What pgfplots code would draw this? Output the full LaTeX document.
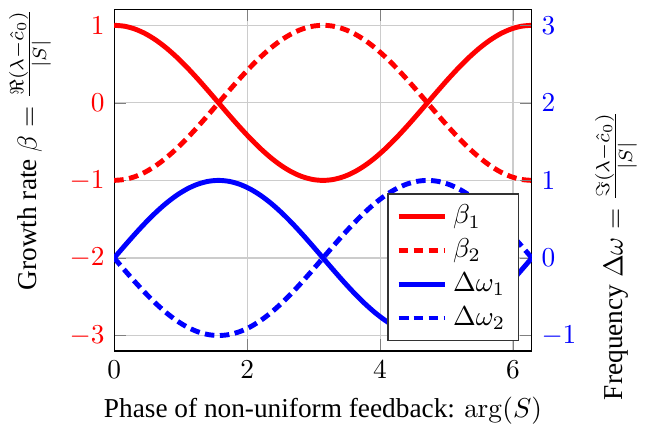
\documentclass[border=0pt]{standalone}
\usepackage[no-math]{fontspec}
\setmainfont{Liberation Serif}
\usepackage{pgfplots}
\usepackage{pgfplotstable}
\pgfplotsset{compat=1.18}
\pgfplotstableread{
x b1 b2 w1 w2
0.0000 1.0000 -1.0000 0.0000 -0.0000
0.1571 0.9877 -0.9877 0.1564 -0.1564
0.3142 0.9511 -0.9511 0.3090 -0.3090
0.4712 0.8910 -0.8910 0.4540 -0.4540
0.6283 0.8090 -0.8090 0.5878 -0.5878
0.7854 0.7071 -0.7071 0.7071 -0.7071
0.9425 0.5878 -0.5878 0.8090 -0.8090
1.0996 0.4540 -0.4540 0.8910 -0.8910
1.2566 0.3090 -0.3090 0.9511 -0.9511
1.4137 0.1564 -0.1564 0.9877 -0.9877
1.5708 0.0000 0.0000 1.0000 -1.0000
1.7279 -0.1564 0.1564 0.9877 -0.9877
1.8850 -0.3090 0.3090 0.9511 -0.9511
2.0420 -0.4540 0.4540 0.8910 -0.8910
2.1991 -0.5878 0.5878 0.8090 -0.8090
2.3562 -0.7071 0.7071 0.7071 -0.7071
2.5133 -0.8090 0.8090 0.5878 -0.5878
2.6704 -0.8910 0.8910 0.4540 -0.4540
2.8274 -0.9511 0.9511 0.3090 -0.3090
2.9845 -0.9877 0.9877 0.1564 -0.1564
3.1416 -1.0000 1.0000 0.0000 0.0000
3.2987 -0.9877 0.9877 -0.1564 0.1564
3.4558 -0.9511 0.9511 -0.3090 0.3090
3.6128 -0.8910 0.8910 -0.4540 0.4540
3.7699 -0.8090 0.8090 -0.5878 0.5878
3.9270 -0.7071 0.7071 -0.7071 0.7071
4.0841 -0.5878 0.5878 -0.8090 0.8090
4.2412 -0.4540 0.4540 -0.8910 0.8910
4.3982 -0.3090 0.3090 -0.9511 0.9511
4.5553 -0.1564 0.1564 -0.9877 0.9877
4.7124 0.0000 0.0000 -1.0000 1.0000
4.8695 0.1564 -0.1564 -0.9877 0.9877
5.0265 0.3090 -0.3090 -0.9511 0.9511
5.1836 0.4540 -0.4540 -0.8910 0.8910
5.3407 0.5878 -0.5878 -0.8090 0.8090
5.4978 0.7071 -0.7071 -0.7071 0.7071
5.6549 0.8090 -0.8090 -0.5878 0.5878
5.8119 0.8910 -0.8910 -0.4540 0.4540
5.9690 0.9511 -0.9511 -0.3090 0.3090
6.1261 0.9877 -0.9877 -0.1564 0.1564
6.2832 1.0000 -1.0000 0.0000 0.0000
}\datatable
\begin{document}
\begin{tikzpicture}
\pgfplotsset{
  common/.style={
    scale only axis, width=153pt, height=125pt,
    xmin=0, xmax=6.2832,
  },
  lw/.style={line width=1.8pt},
  dsh/.style={line width=1.8pt, dash pattern=on 3.5pt off 2pt},
}
\begin{axis}[
  common,
  ymin=-3.2, ymax=1.2,
  ytick={-3,-2,-1,0,1},
  xtick={0,2,4,6},
  grid=major,
  major grid style={gray!40, thin},
  yticklabel style={red},
  axis y line*=left,
  xlabel={Phase of non-uniform feedback: $\arg(S)$},
  ylabel={Growth rate $\beta=\frac{\Re(\lambda-\hat{c}_0)}{|S|}$},
  ylabel style={at={(ticklabel cs:0.59)}},
]
\addplot[red, lw, smooth] table[x=x, y=b1] {\datatable};
\addplot[red, dsh, smooth] table[x=x, y=b2] {\datatable};
\end{axis}
\begin{axis}[
  common,
  ymin=-1.2, ymax=3.2,
  ytick={-1,0,1,2,3},
  axis y line*=right,
  axis x line=none,
  yticklabel style={blue},
  ylabel={Frequency $\Delta\omega=\frac{\Im(\lambda-\hat{c}_0)}{|S|}$},
  ylabel style={at={(ticklabel cs:0.28)}},
  legend style={at={(0.97,0.03)}, anchor=south east, draw=black!80, fill=white, font=\normalsize},
  legend cell align=left,
]
\addlegendimage{red, lw}
\addlegendentry{$\beta_1$}
\addlegendimage{red, dsh}
\addlegendentry{$\beta_2$}
\addplot[blue, lw, smooth] table[x=x, y=w1] {\datatable};
\addlegendentry{$\Delta\omega_1$}
\addplot[blue, dsh, smooth] table[x=x, y=w2] {\datatable};
\addlegendentry{$\Delta\omega_2$}
\end{axis}
\end{tikzpicture}
\end{document}
